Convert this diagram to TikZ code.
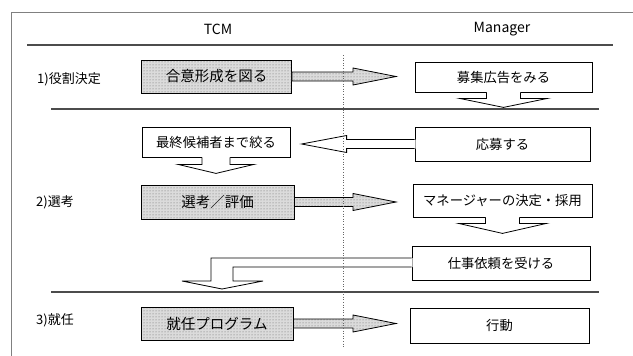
\documentclass[tikz,border=0pt]{standalone}
\usepackage{fontspec}
\setmainfont{Noto Sans CJK JP}
\usetikzlibrary{calc,patterns}
\newcommand\downblk[5]{%
  \fill[white] ($(#1)+(-#2,-1)$) -- ($(#1)+(-#2,#3)$) -- ($(#1)+(-#4,#3)$) -- ($(#1)+(0,#5)$) -- ($(#1)+(#4,#3)$) -- ($(#1)+(#2,#3)$) -- ($(#1)+(#2,-1)$) -- cycle;
  \draw[arrline] ($(#1)+(-#2,0)$) -- ($(#1)+(-#2,#3)$) -- ($(#1)+(-#4,#3)$) -- ($(#1)+(0,#5)$) -- ($(#1)+(#4,#3)$) -- ($(#1)+(#2,#3)$) -- ($(#1)+(#2,0)$);}
\newcommand\rightblk[2]{%
  \filldraw[shadefill] (#1) -- ($(#1)+(0,-4.5)$) -- ($(#2)+(-43,-4.5)$) -- ($(#2)+(-43,-8.5)$) -- (#2) -- ($(#2)+(-43,8.5)$) -- ($(#2)+(-43,4.5)$) -- ($(#1)+(0,4.5)$) -- cycle;}
\begin{document}
\begin{tikzpicture}[x=1pt,y=-1pt,
  framec/.style={draw=black!50, line width=0.9pt},
  rule/.style={draw=black!70, line width=1.1pt},
  vdot/.style={draw=black!60, line width=0.6pt, dotted},
  arrline/.style={draw=black, line width=0.8pt, line join=miter},
  box/.style={draw=black, line width=0.8pt, fill=white, inner sep=0pt, font=\fontsize{13.3}{15}\selectfont},
  shadefill/.style={draw=black, line width=0.8pt, preaction={fill=black!14}, pattern=dots, pattern color=black!60},
  shadebox/.style={shadefill, inner sep=0pt, font=\fontsize{14.5}{16}\selectfont},
  lab/.style={inner sep=0pt, anchor=west, font=\fontsize{13}{15}\selectfont},
  hdr/.style={inner sep=0pt, font=\fontsize{14}{16}\selectfont}]
\useasboundingbox (0,0) rectangle (633,356);
% frame and rules
\coordinate (ftl) at (11,12);
\draw[framec] (11,356) -- (ftl) -- (633,12);
\draw[rule] (27,45) -- (613,45);
\draw[rule] (51,109) -- (599,109);
\draw[rule] (51,292) -- (599,292);
% headers
\node[hdr] (tcm) at (218,29) {TCM};
\node[hdr] (mgr) at (502,29) {Manager};
% row labels
\node[lab] (l1) at (37,79) {1)役割決定};
\node[lab] (l2) at (36,202) {2)選考};
\node[lab] (l3) at (36,320) {3)就任};
% boxes
\node[shadebox, minimum width=150pt, minimum height=33pt] (c1) at (216.5,76.5) {合意形成を図る};
\node[box, minimum width=177pt, minimum height=30pt] (m1) at (503.5,77) {募集広告をみる};
\node[box, minimum width=148pt, minimum height=30pt] (fin) at (216,142) {最終候補者まで絞る};
\node[box, minimum width=175pt, minimum height=34pt] (ap) at (502.5,144) {応募する};
\node[shadebox, minimum width=153pt, minimum height=34pt] (c2) at (217.5,202) {選考／評価};
\node[box, minimum width=179pt, minimum height=33pt] (dec) at (502.5,200.5) {マネージャーの決定・採用};
\node[box, minimum width=178pt, minimum height=34pt] (job) at (501,263) {仕事依頼を受ける};
\node[shadebox, minimum width=152pt, minimum height=33pt] (c3) at (217,323.5) {就任プログラム};
\node[box, minimum width=179pt, minimum height=35pt] (act) at (499.5,325.5) {行動};
% shaded right arrows
\coordinate (tipx) at (396,0);
\coordinate (r1) at (c1.east -| tipx);
\coordinate (r2) at (c2.east -| tipx);
\coordinate (r3) at (c3.east -| tipx);
\rightblk{c1.east}{r1}
\rightblk{c2.east}{r2}
\rightblk{c3.east}{r3}
% down arrows
\downblk{m1.south}{17}{6}{44}{15}
\downblk{fin.south}{14}{7}{38}{16}
\downblk{dec.south}{17}{6}{44}{16}
% left arrow from ap to fin
\coordinate (tl) at ($(ap.west)+(-113,0)$);
\fill[white] ($(ap.west)+(1,-4.5)$) -- ($(tl)+(45,-4.5)$) -- ($(tl)+(45,-8.5)$) -- (tl) -- ($(tl)+(45,8.5)$) -- ($(tl)+(45,4.5)$) -- ($(ap.west)+(1,4.5)$) -- cycle;
\draw[arrline] ($(ap.west)+(0,-4.5)$) -- ($(tl)+(45,-4.5)$) -- ($(tl)+(45,-8.5)$) -- (tl) -- ($(tl)+(45,8.5)$) -- ($(tl)+(45,4.5)$) -- ($(ap.west)+(0,4.5)$);
% bent arrow from job to row 3
\coordinate (bt) at (222,289);
\fill[white] ($(job.west)+(1,-5)$) -- ($(bt)+(-11,-31)$) -- ($(bt)+(-11,-8)$) -- ($(bt)+(-40,-8)$) -- (bt) -- ($(bt)+(41,-8)$) -- ($(bt)+(11,-8)$) -- ($(bt)+(11,-22)$) -- ($(job.west)+(1,4)$) -- cycle;
\draw[arrline] ($(job.west)+(0,-5)$) -- ($(bt)+(-11,-31)$) -- ($(bt)+(-11,-8)$) -- ($(bt)+(-40,-8)$) -- (bt) -- ($(bt)+(41,-8)$) -- ($(bt)+(11,-8)$) -- ($(bt)+(11,-22)$) -- ($(job.west)+(0,4)$);
% dotted divider
\coordinate (dtop) at (343,55);
\coordinate (dbot) at (343,348);
\draw[vdot] (dtop) -- (dbot);
\end{tikzpicture}
\end{document}
